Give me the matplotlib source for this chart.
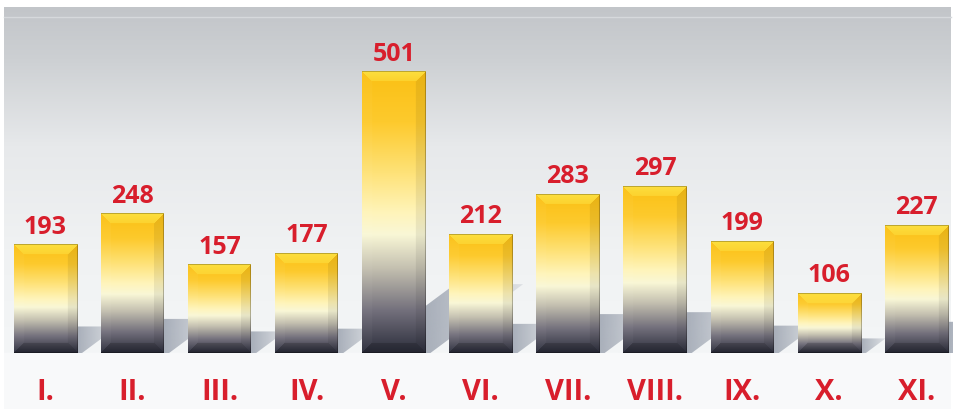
import numpy as np
import matplotlib
matplotlib.use("Agg")
import matplotlib.pyplot as plt
from matplotlib.patches import Polygon, Rectangle

# ── data ────────────────────────────────────────────────
months = ["I.", "II.", "III.", "IV.", "V.", "VI.", "VII.", "VIII.", "IX.", "X.", "XI."]
values = [193, 248, 157, 177, 501, 212, 283, 297, 199, 106, 227]

# ── layout (pixels of the 954x409 picture) ──────────────
W, H, DPI = 954, 409, 100
PX_X = 87.1            # px per category
PX_Y = 0.561           # px per unit
BASE_PX = 56           # baseline height from bottom
XMIN = -0.52
YMIN = -BASE_PX / PX_Y
XMAX = XMIN + W / PX_X
YMAX = YMIN + H / PX_Y
BAR_W = 63 / PX_X
RED = "#d81e2c"


def ramp(stops, n):
    pos = np.array([s[0] for s in stops])
    cols = np.array([s[1] for s in stops], dtype=float) / 255
    t = np.linspace(0, 1, n)
    return np.stack([np.interp(t, pos, cols[:, k]) for k in range(3)], axis=1)


BAR_STOPS = [(0.00, (251, 192, 20)), (0.18, (253, 202, 45)),
             (0.36, (254, 226, 120)), (0.50, (255, 244, 185)),
             (0.58, (249, 247, 214)), (0.70, (196, 192, 176)),
             (0.85, (115, 112, 124)), (1.00, (44, 46, 60))]


def bar_texture(hp, wp, bev=10):
    hp = max(int(round(hp)), 4)
    col = ramp(BAR_STOPS, hp)
    img = np.repeat(col[:, None, :], wp, axis=1)
    r = np.arange(hp)[:, None] * np.ones((1, wp))
    c = np.ones((hp, 1)) * np.arange(wp)[None, :]
    d = np.stack([r, hp - 1 - r, c, wp - 1 - c])   # top, bottom, left, right
    side = d.argmin(axis=0)
    dmin = d.min(axis=0)
    inb = dmin < bev
    top = inb & (side == 0)
    k = (1 - dmin[top] / bev)[:, None] * 0.35 + 0.35
    img[top] = img[top] * (1 - k) + np.array([254, 236, 80]) / 255 * k
    bot = inb & (side == 1)
    img[bot] *= 0.82
    lft = inb & (side == 2)
    img[lft] = img[lft] * 0.97 + 0.03
    rgt = inb & (side == 3)
    img[rgt] *= 0.93
    edge = (dmin < 1) & (side != 2)
    img[edge] *= 0.75
    return np.clip(img, 0, 1)


fig = plt.figure(figsize=(W / DPI, H / DPI), dpi=DPI)
ax = fig.add_axes([0, 0, 1, 1])
ax.set_xlim(XMIN, XMAX)
ax.set_ylim(YMIN, YMAX)
ax.axis("off")

# background wall + floor
px_l = XMIN + 4 / PX_X
px_r = XMIN + 951 / PX_X
wall_top = YMIN + (H - 8) / PX_Y
wall = ramp([(0.0, (194, 197, 201)), (0.15, (205, 208, 211)),
             (0.40, (231, 233, 235)), (0.70, (240, 242, 243)),
             (1.0, (244, 246, 247))], 300)
ax.imshow(wall[:, None, :], extent=[px_l, px_r, 0, wall_top],
          aspect="auto", zorder=0, interpolation="bilinear")
ax.axhline(wall_top - 9 / PX_Y, xmin=4 / W, xmax=951 / W,
           color="#d6d9dc", lw=1, zorder=0.5)
ax.add_patch(Rectangle((px_l, YMIN), px_r - px_l, -YMIN,
                       color="#f8f9fa", lw=0, zorder=0))

# shadows
for i, v in enumerate(values):
    xl, xr = i - BAR_W / 2, i + BAR_W / 2
    dy = 0.245 * v
    dx = 0.33 * v * PX_Y / PX_X
    poly = Polygon([(xl, 0), (xr + 0.06, 0), (xr + 0.06 + dx, dy), (xl + dx, dy)],
                   closed=True, facecolor="none", edgecolor="none")
    ax.add_patch(poly)
    sh = np.zeros((1, 50, 4))
    sh[..., :3] = np.array([160, 167, 179]) / 255
    sh[..., 3] = np.linspace(0.9, 0.25, 50)
    im = ax.imshow(sh, extent=[xr, xr + dx + 0.06, 0, dy], aspect="auto",
                   zorder=2, interpolation="bilinear")
    im.set_clip_path(poly)

# bars
for i, v in enumerate(values):
    xl, xr = i - BAR_W / 2, i + BAR_W / 2
    tex = bar_texture(v * PX_Y, 63)
    ax.imshow(tex, extent=[xl, xr, 0, v], aspect="auto", zorder=3,
              interpolation="bilinear")
    ax.text(i, v + 20, str(v), ha="center", va="baseline", color=RED,
            fontsize=18, fontweight="bold", family="Open Sans", zorder=4)

# category labels
for i, m in enumerate(months):
    ax.text(i, YMIN + 9 / PX_Y, m, ha="center", va="baseline", color=RED,
            fontsize=21, fontweight="bold", family="Open Sans", zorder=4)

fig.savefig("out.png", dpi=DPI)
